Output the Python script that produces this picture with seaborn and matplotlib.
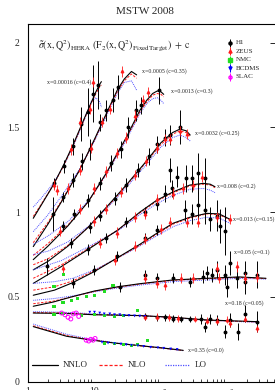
import numpy as np
import pandas as pd
import matplotlib
matplotlib.use("Agg")
import matplotlib.pyplot as plt
import seaborn as sns
from matplotlib.ticker import LogLocator, FixedLocator, NullFormatter

# ===============================
# Theory curves (NNLO / NLO / LO), one set per x bin
# ===============================
q2_x00016 = [1.2, 1.6, 2.4, 3.4, 4.8, 6.8, 9.0, 10.5, 12.0, 12.7]
nnlo_x00016 = [0.964, 1.045, 1.16, 1.275, 1.40, 1.54, 1.65, 1.71, 1.755, 1.77]
nlo_x00016 = [0.975, 1.05, 1.16, 1.27, 1.395, 1.535, 1.645, 1.70, 1.74, 1.75]
lo_x00016 = [1.03, 1.085, 1.17, 1.27, 1.39, 1.53, 1.655, 1.675, 1.65, 1.62]

q2_x0005 = [1.2, 2.0, 3.4, 6.0, 10, 15, 22, 28, 36, 43]
nnlo_x0005 = [0.797, 0.93, 1.08, 1.25, 1.43, 1.58, 1.72, 1.785, 1.83, 1.81]
nlo_x0005 = [0.82, 0.94, 1.085, 1.25, 1.425, 1.575, 1.71, 1.775, 1.815, 1.79]
lo_x0005 = [0.885, 0.985, 1.11, 1.255, 1.42, 1.565, 1.70, 1.765, 1.775, 1.72]

q2_x0013 = [1.2, 2, 4, 8, 15, 30, 48, 61, 75, 88, 100, 110]
nnlo_x0013 = [0.72, 0.80, 0.92, 1.06, 1.23, 1.44, 1.60, 1.66, 1.70, 1.715, 1.71, 1.695]
nlo_x0013 = [0.745, 0.815, 0.925, 1.06, 1.225, 1.435, 1.59, 1.65, 1.69, 1.70, 1.695, 1.68]
lo_x0013 = [0.81, 0.86, 0.945, 1.065, 1.22, 1.425, 1.58, 1.64, 1.67, 1.675, 1.66, 1.64]

q2_x0032 = [1.2, 2, 4, 8, 16, 30, 60, 100, 150, 193, 240, 275]
nnlo_x0032 = [0.66, 0.71, 0.80, 0.91, 1.04, 1.16, 1.30, 1.41, 1.47, 1.49, 1.48, 1.455]
nlo_x0032 = [0.69, 0.725, 0.805, 0.91, 1.035, 1.155, 1.295, 1.40, 1.46, 1.48, 1.47, 1.445]
lo_x0032 = [0.75, 0.77, 0.825, 0.915, 1.03, 1.145, 1.28, 1.385, 1.44, 1.455, 1.44, 1.42]

q2_x008 = [1.2, 3.2, 8, 22.5, 48, 86, 153, 272, 432, 550, 650]
nnlo_x008 = [0.58, 0.68, 0.78, 0.895, 1.0, 1.07, 1.12, 1.16, 1.17, 1.165, 1.15]
nlo_x008 = [0.61, 0.69, 0.785, 0.895, 0.995, 1.065, 1.115, 1.155, 1.165, 1.16, 1.145]
lo_x008 = [0.66, 0.715, 0.795, 0.89, 0.985, 1.05, 1.10, 1.135, 1.14, 1.13, 1.115]

q2_x013 = [1.2, 2.5, 4.75, 10, 18, 48, 86, 153, 272, 487, 750, 1090]
nnlo_x013 = [0.51, 0.54, 0.585, 0.65, 0.71, 0.81, 0.875, 0.935, 0.97, 0.993, 0.99, 0.958]
nlo_x013 = [0.54, 0.56, 0.595, 0.655, 0.71, 0.805, 0.87, 0.93, 0.965, 0.99, 0.985, 0.955]
lo_x013 = [0.58, 0.59, 0.61, 0.66, 0.71, 0.80, 0.86, 0.915, 0.95, 0.97, 0.965, 0.935]

q2_x05 = [1.2, 2.4, 4.5, 10, 22.5, 48, 150, 500, 1500, 3800]
nnlo_x05 = [0.445, 0.47, 0.50, 0.535, 0.56, 0.578, 0.60, 0.61, 0.618, 0.61]
nlo_x05 = [0.46, 0.475, 0.50, 0.533, 0.558, 0.576, 0.598, 0.608, 0.615, 0.608]
lo_x05 = [0.48, 0.49, 0.505, 0.53, 0.553, 0.57, 0.59, 0.60, 0.61, 0.605]

q2_x18 = [1.2, 3.4, 10, 48, 153, 488, 2870]
nnlo_x18 = [0.405, 0.403, 0.395, 0.39, 0.38, 0.364, 0.354]
nlo_x18 = [0.408, 0.405, 0.396, 0.389, 0.379, 0.363, 0.352]
lo_x18 = [0.413, 0.41, 0.40, 0.39, 0.378, 0.362, 0.35]

q2_x35 = [1.2, 3.8, 7.5, 20, 50, 100, 216]
nnlo_x35 = [0.325, 0.268, 0.25, 0.228, 0.212, 0.2, 0.185]
nlo_x35 = [0.33, 0.272, 0.252, 0.228, 0.211, 0.199, 0.184]
lo_x35 = [0.34, 0.28, 0.256, 0.23, 0.212, 0.199, 0.183]

# bin labels: text, left Q2, y
bin_labels = ["x=0.00016 (c=0.4)", "x=0.0005 (c=0.35)", "x=0.0013 (c=0.3)",
              "x=0.0032 (c=0.25)", "x=0.008 (c=0.2)", "x=0.013 (c=0.15)",
              "x=0.05 (c=0.1)", "x=0.18 (c=0.05)", "x=0.35 (c=0.0)"]
label_q2 = [1.93, 52, 141, 324, 698, 1210, 1250, 917, 254]
label_y = [1.765, 1.833, 1.715, 1.467, 1.155, 0.96, 0.765, 0.464, 0.187]

# ===============================
# Data points
# ===============================
h1_q2 = [2.5, 3.5, 4.8, 6.3, 8.0, 9.6, 11.4,
         2.4, 3.4, 4.8, 6.5, 8.5, 12, 15, 18.7, 22.8,
         3.4, 5, 8, 12, 18, 25, 32, 42, 50, 94,
         1.95, 4.5, 8.5, 12, 20, 30, 45, 65, 86, 114, 136, 193,
         8, 15, 30, 57, 86, 115, 136, 145, 172, 235, 290, 365, 460,
         4.75, 10, 22, 57, 86, 230, 290, 365, 460, 540, 690, 770, 920,
         24, 57, 86, 150, 272, 432, 490, 580, 690, 920, 1000, 1090, 1370, 1830, 1830, 2770,
         57, 86, 115, 150, 200, 272, 400, 455, 540, 690, 920, 1090, 1450, 1830, 2770]
h1_y = [1.17, 1.27, 1.39, 1.52, 1.59, 1.70, 1.75,
        0.99, 1.09, 1.19, 1.30, 1.37, 1.53, 1.60, 1.66, 1.74,
        0.92, 0.99, 1.07, 1.17, 1.29, 1.37, 1.50, 1.60, 1.63, 1.72,
        0.68, 0.82, 0.91, 0.98, 1.08, 1.16, 1.25, 1.33, 1.40, 1.44, 1.455, 1.50,
        0.78, 0.85, 0.94, 1.00, 1.05, 1.11, 1.25, 1.14, 1.21, 1.20, 1.20, 1.23, 1.20,
        0.58, 0.66, 0.74, 0.846, 0.895, 1.01, 0.99, 1.04, 1.01, 0.96, 0.98, 0.92, 0.89,
        0.56, 0.63, 0.61, 0.61, 0.59, 0.62, 0.64, 0.63, 0.66, 0.63, 0.56, 0.70, 0.61, 0.64, 0.59, 0.63,
        0.385, 0.38, 0.38, 0.372, 0.37, 0.37, 0.37, 0.324, 0.37, 0.365, 0.295, 0.365, 0.295, 0.40, 0.355]
h1_err = [0.03, 0.04, 0.05, 0.10, 0.14, 0.17, 0.14,
          0.10, 0.03, 0.04, 0.05, 0.06, 0.05, 0.06, 0.07, 0.07,
          0.03, 0.03, 0.04, 0.04, 0.05, 0.05, 0.06, 0.06, 0.05, 0.08,
          0.05, 0.03, 0.03, 0.03, 0.04, 0.04, 0.04, 0.05, 0.05, 0.05, 0.06, 0.10,
          0.03, 0.03, 0.03, 0.03, 0.04, 0.05, 0.07, 0.05, 0.06, 0.08, 0.08, 0.12, 0.12,
          0.03, 0.03, 0.03, 0.03, 0.03, 0.06, 0.06, 0.08, 0.08, 0.07, 0.09, 0.10, 0.14,
          0.03, 0.03, 0.03, 0.03, 0.03, 0.04, 0.04, 0.04, 0.05, 0.06, 0.06, 0.07, 0.06, 0.07, 0.07, 0.08,
          0.02, 0.02, 0.02, 0.02, 0.02, 0.02, 0.03, 0.03, 0.03, 0.03, 0.04, 0.04, 0.05, 0.05, 0.06]

zeus_q2 = [2.5, 2.7, 4.4, 6.0, 8.5, 9.6,
           4.0, 6, 9, 13, 17, 25.6,
           3, 6, 10, 15, 22, 30, 41, 54, 63,
           10, 15, 25, 40, 60, 86, 114, 136, 193, 245,
           3.36, 12, 22, 40, 57, 86, 153, 216, 305, 410,
           20, 40, 57, 100, 137, 250, 365, 690, 1090,
           57, 86, 115, 200, 300, 700, 750, 1370, 1830, 2770,
           57, 86, 130, 180, 330, 500, 700, 1000, 1100, 1830, 2770]
zeus_y = [1.16, 1.13, 1.37, 1.53, 1.61, 1.77,
          1.14, 1.25, 1.38, 1.53, 1.61, 1.83,
          0.89, 1.02, 1.14, 1.24, 1.35, 1.44, 1.57, 1.66, 1.71,
          0.95, 1.02, 1.12, 1.22, 1.30, 1.38, 1.43, 1.43, 1.48, 1.46,
          0.67, 0.82, 0.88, 0.97, 0.99, 1.08, 1.11, 1.14, 1.16, 1.21,
          0.72, 0.80, 0.84, 0.90, 0.94, 0.94, 0.94, 0.97, 0.958,
          0.61, 0.58, 0.57, 0.61, 0.61, 0.67, 0.61, 0.68, 0.61, 0.62,
          0.382, 0.383, 0.38, 0.375, 0.37, 0.36, 0.36, 0.365, 0.345, 0.37, 0.315]
zeus_err = [0.03] * 6 + [0.03] * 6 + [0.03] * 9 + [0.03] * 10 + [0.03] * 10 + [0.03] * 9 \
    + [0.03] * 10 + [0.02] * 11

nmc_q2 = [3.4, 2.46,
          2.46, 3.36, 4.5, 5.6, 7.5, 10, 14.2, 19,
          2.46, 3.36, 6.3, 10, 14, 20, 27, 45,
          9, 14.2, 20, 27, 36, 45, 63.5]
nmc_y = [0.63, 0.56,
         0.443, 0.468, 0.48, 0.49, 0.50, 0.51, 0.53, 0.57,
         0.395, 0.40, 0.39, 0.395, 0.39, 0.385, 0.39, 0.42,
         0.245, 0.226, 0.225, 0.22, 0.216, 0.222, 0.245]

bcdms_q2 = [8.5, 10, 12, 14, 17, 20, 24, 28, 33, 40, 48, 57,
            13, 16, 20, 25, 30, 36, 45, 55, 70, 90, 110, 140, 175]
bcdms_y = [0.41, 0.41, 0.405, 0.40, 0.40, 0.395, 0.395, 0.39, 0.39, 0.388, 0.387, 0.385,
           0.232, 0.228, 0.225, 0.222, 0.218, 0.215, 0.212, 0.208, 0.203, 0.2, 0.197, 0.193, 0.19]

slac_q2 = [3.2, 3.6, 4.0, 4.4, 4.8, 5.3, 5.8, 7.5, 8.2, 8.8, 9.5, 10.2]
slac_y = [0.405, 0.395, 0.38, 0.37, 0.40, 0.405, 0.385, 0.245, 0.24, 0.25, 0.245, 0.255]

experiments = ["H1", "ZEUS", "NMC", "BCDMS", "SLAC"]
orders = ["NNLO", "NLO", "LO"]

# ===============================
# Style
# ===============================
sns.set_style("white")
plt.rcParams['font.family'] = ['Liberation Serif', 'DejaVu Serif']
plt.rcParams['mathtext.fontset'] = 'stix'

fig = plt.figure(figsize=(2.75, 3.9), dpi=100)
ax = fig.add_axes([28 / 275, 1 - 381.7 / 390, 248 / 275, 357.7 / 390])

curves = [
    (q2_x00016, nnlo_x00016, nlo_x00016, lo_x00016),
    (q2_x0005, nnlo_x0005, nlo_x0005, lo_x0005),
    (q2_x0013, nnlo_x0013, nlo_x0013, lo_x0013),
    (q2_x0032, nnlo_x0032, nlo_x0032, lo_x0032),
    (q2_x008, nnlo_x008, nlo_x008, lo_x008),
    (q2_x013, nnlo_x013, nlo_x013, lo_x013),
    (q2_x05, nnlo_x05, nlo_x05, lo_x05),
    (q2_x18, nnlo_x18, nlo_x18, lo_x18),
    (q2_x35, nnlo_x35, nlo_x35, lo_x35),
]

LO_BLUE = "#4d4dff"
NLO_RED = "#ff1a1a"

for q2, nnlo, nlo, lo in curves:
    sns.lineplot(x=q2, y=lo, ax=ax, color=LO_BLUE, lw=0.7, linestyle=(0, (1, 1)),
                 estimator=None, sort=False)
    sns.lineplot(x=q2, y=nlo, ax=ax, color=NLO_RED, lw=0.7, linestyle=(0, (2.5, 1.5)),
                 estimator=None, sort=False)
    sns.lineplot(x=q2, y=nnlo, ax=ax, color="black", lw=0.8,
                 estimator=None, sort=False)

# data points
ax.errorbar(h1_q2, h1_y, yerr=h1_err, fmt="o", color="black", ms=1.8, elinewidth=0.7,
            capsize=0, zorder=5)
ax.errorbar(zeus_q2, zeus_y, yerr=zeus_err, fmt="^", color=NLO_RED, ms=1.8,
            elinewidth=0.6, capsize=0, zorder=6)
sns.scatterplot(x=nmc_q2, y=nmc_y, ax=ax, marker="s", color="#22dd22", s=5,
                edgecolor="none", zorder=6)
sns.scatterplot(x=bcdms_q2, y=bcdms_y, ax=ax, marker="v", color="#0000ff", s=4,
                edgecolor="none", zorder=6)
ax.scatter(slac_q2, slac_y, marker="o", facecolors="none", edgecolors="#ff00ff",
           s=8, linewidths=0.7, zorder=6)

for txt, xq, yy in zip(bin_labels, label_q2, label_y):
    ax.text(xq, yy, txt, fontsize=4.2, va="center", ha="left")

# axes
ax.set_xscale("log")
ax.set_xlim(1, 10 ** 3.73)
ax.set_ylim(0, 2.11)
ax.set_xlabel("")
ax.set_ylabel("")
for s in ax.spines.values():
    s.set_linewidth(0.8)
    s.set_color("black")

ax.xaxis.set_major_locator(FixedLocator([1, 10, 100, 1000]))
ax.set_xticklabels(["1", "10", "10$^{2}$", "10$^{3}$"])
ax.xaxis.set_minor_locator(LogLocator(base=10, subs=np.arange(2, 10)))
ax.xaxis.set_minor_formatter(NullFormatter())
ax.set_yticks([0, 0.5, 1, 1.5, 2])
ax.set_yticklabels(["0", "0.5", "1", "1.5", "2"])
ax.tick_params(axis="y", which="major", direction="in", length=4, width=0.7,
               right=True, labelsize=7, pad=6)
ax.tick_params(axis="x", which="major", direction="in", length=4, width=0.7,
               labelsize=7, pad=4)
ax.tick_params(axis="x", which="minor", direction="in", length=2, width=0.6, bottom=True)

# experiment legend (top right)
leg_colors = ["black", NLO_RED, "#22dd22", "#0000ff", "#ff00ff"]
leg_markers = ["o", "^", "s", "v", "o"]
for i, (name, c, m) in enumerate(zip(experiments, leg_colors, leg_markers)):
    yy = 0.948 - i * 0.0238
    fc = "none" if name == "SLAC" else c
    ax.errorbar([0.815], [yy], yerr=[0.011], fmt=m, color=c, mfc=fc, ms=2.2,
                elinewidth=0.7, capsize=0, transform=ax.transAxes, clip_on=False)
    ax.text(0.838, yy, name, transform=ax.transAxes, fontsize=5, va="center")

# order legend (bottom)
ord_styles = [("black", "-"), (NLO_RED, (0, (2.5, 1.5))), (LO_BLUE, (0, (1, 1)))]
ord_x = [(0.016, 0.121, 0.141), (0.286, 0.383, 0.403), (0.552, 0.653, 0.673)]
for name, (c, ls), (x0, x1, xt) in zip(orders, ord_styles, ord_x):
    ax.plot([x0, x1], [0.047, 0.047], color=c, linestyle=ls, lw=0.9, transform=ax.transAxes)
    ax.text(xt, 0.047, name, transform=ax.transAxes, fontsize=6.5, va="center")

ax.text(0.04, 0.936,
        r"$\tilde{\sigma}\mathrm{(x,Q^{2})_{HERA}\ (F_{2}(x,Q^{2})_{FixedTarget})\ +\ c}$",
        transform=ax.transAxes, fontsize=7.2, va="center", ha="left")

fig.text(145 / 275, 1 - 12 / 390, "MSTW 2008", fontsize=8, ha="center", va="center")

fig.savefig("out.png", dpi=100)
